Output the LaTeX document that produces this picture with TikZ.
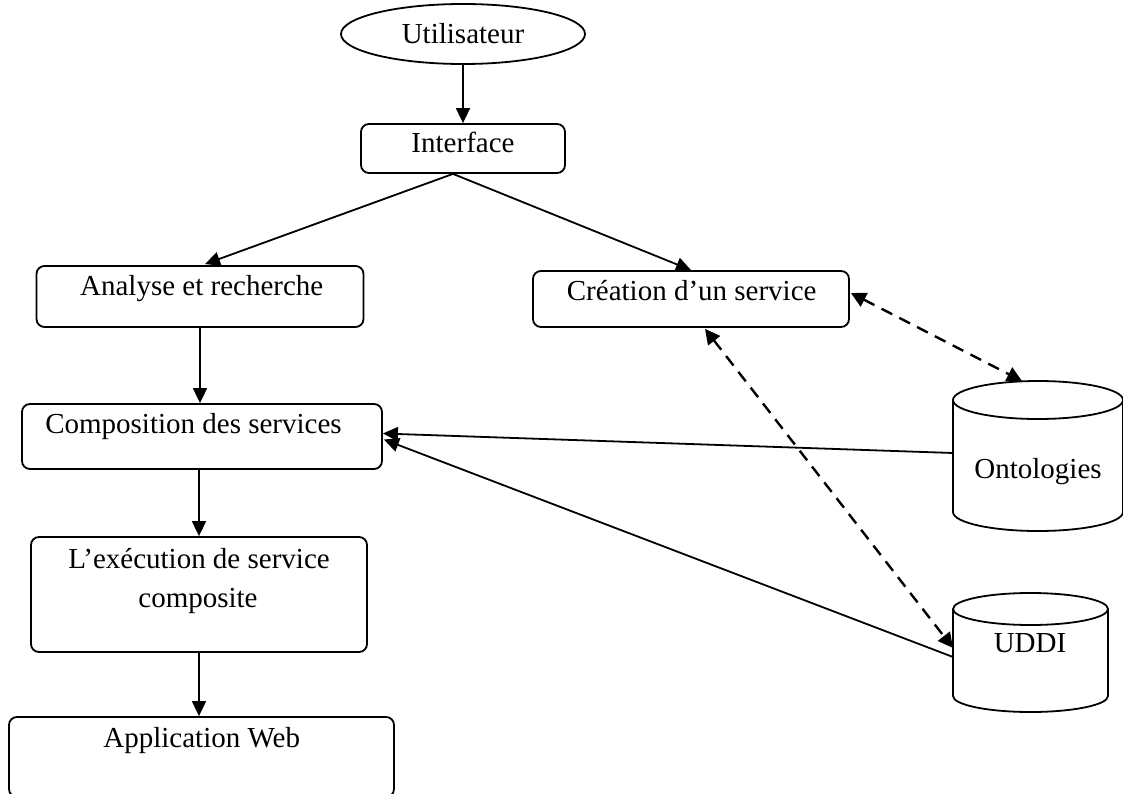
\documentclass[tikz,border=0pt]{standalone}
\usepackage{fontspec}
\setmainfont{Liberation Serif}
\usetikzlibrary{shapes.geometric,arrows.meta,calc}

\begin{document}
\begin{tikzpicture}[x=1pt,y=-1pt,
  box/.style={draw, rounded corners=8pt, line width=1.8pt, inner sep=0pt},
  txt/.style={anchor=base, inner sep=0pt, font=\fontsize{29}{39}\selectfont},
  link/.style={line width=1.8pt, -{Triangle[length=15pt,width=14pt]}},
  dlink/.style={line width=2.4pt, dash pattern=on 12pt off 8pt,
    {Triangle[length=15pt,width=15pt]}-{Triangle[length=15pt,width=15pt]}},
  drum/.style={line width=1.8pt}]

  % page frame
  \fill[white] (0,0) rectangle (1123,794);
  \useasboundingbox (0,0) rectangle (1123,794);

  % user
  \node[draw, ellipse, line width=1.8pt, inner sep=0pt,
        minimum width=244, minimum height=60,
        font=\fontsize{29}{39}\selectfont] (user) at (463,34) {Utilisateur};

  % process boxes
  \node[box, minimum width=204, minimum height=49]  (iface) at (463,148.5) {};
  \node[txt] (iface-t) at (463,153) {Interface};

  \node[box, minimum width=327, minimum height=61]  (ana)   at (200,296.5) {};
  \node[txt] (ana-t) at (201.7,295) {Analyse et recherche};

  \node[box, minimum width=316, minimum height=56]  (crea)  at (691,299) {};
  \node[txt] (crea-t) at (691.7,300) {Création d’un service};

  \node[box, minimum width=360, minimum height=65]  (comp)  at (202,436.5) {};
  \node[txt] (comp-t) at (193.5,433) {Composition des services};

  \node[box, minimum width=336, minimum height=115] (exec)  at (199,594.5) {};
  \node[txt] (exec-t1) at (199,568) {L’exécution de service};
  \node[txt] (exec-t2) at (198,607) {composite};

  \node[box, minimum width=385, minimum height=80]  (app)   at (201.5,757) {};
  \node[txt] (app-t) at (201.7,747) {Application Web};

  % Ontologies store
  \draw[drum] (1038,400) ellipse [x radius=85, y radius=19];
  \draw[drum] (953,400) -- (953,512)
    arc[start angle=180, end angle=0, x radius=85, y radius=19] -- (1123,400);
  \node[txt] (onto-t) at (1038,478) {Ontologies};
  \coordinate (onto-w) at (953,453);
  \coordinate (onto-n) at (1022,381);

  % UDDI store
  \draw[drum] (1030.5,609) ellipse [x radius=77.5, y radius=16];
  \draw[drum] (953,609) -- (953,696)
    arc[start angle=180, end angle=0, x radius=77.5, y radius=16] -- (1108,609);
  \node[txt] (uddi-t) at (1030,652) {UDDI};
  \coordinate (uddi-w1) at (953,657);
  \coordinate (uddi-w2) at (953,648);

  % main flow
  \coordinate (split) at ($(iface.south)+(-10,0)$);
  \draw[link] (user) -- (iface);
  \draw[link] (split) -- ($(ana.north)+(5,-1)$);
  \draw[link] (split) -- (crea.north);
  \draw[link] (ana.south) -- (ana.south |- comp.north);
  \draw[link] (exec.north |- comp.south) -- (exec.north);
  \draw[link] (exec.south) -- (exec.south |- app.north);

  % store links
  \draw[link] (onto-w) -- ($(comp.east)+(0,-3)$);
  \draw[link] (uddi-w1) -- ($(comp.east)+(1,3)$);
  \draw[dlink] ($(crea.east)+(1,-6)$) -- (onto-n);
  \draw[dlink] ($(crea.south)+(14,1)$) -- (uddi-w2);
\end{tikzpicture}
\end{document}
